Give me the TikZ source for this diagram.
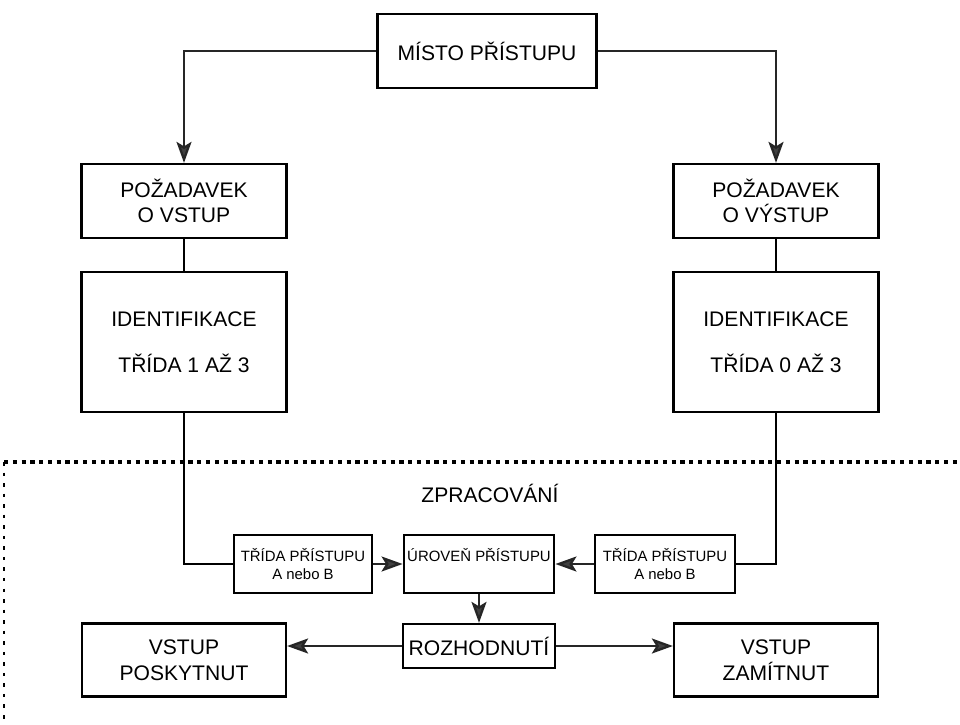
\documentclass[tikz,border=0pt]{standalone}
\usepackage{fontspec}
\setmainfont{Liberation Sans}
\usepackage{tikz}
\usetikzlibrary{arrows.meta,positioning}

\begin{document}
\begin{tikzpicture}[x=0.02cm, y=-0.02cm,
  every node/.style={font=\fontsize{12}{14.5}\selectfont},
  box/.style={draw, line width=1.3pt, align=center, inner sep=2pt},
  reqbox/.style={box, minimum width=4.1cm, minimum height=1.48cm},
  idbox/.style={box, minimum width=4.1cm, minimum height=2.8cm},
  classbox/.style={box, minimum width=2.75cm, minimum height=1.16cm, font=\fontsize{8.5}{10}\selectfont},
  resbox/.style={box, minimum width=4.08cm, minimum height=1.46cm},
  arr/.style={-{Stealth[length=4.2mm,width=3mm,inset=0.9mm,fill=black!75]}, line width=1.3pt, draw=black!85},
  wire/.style={line width=1.2pt},
  zone/.style={line width=1.8pt, dash pattern=on 2.4pt off 2.6pt},
  zoneside/.style={line width=1.6pt, dash pattern=on 2pt off 4pt},
]
\useasboundingbox (0,0) rectangle (960,724);
\node[box, minimum width=4.38cm, minimum height=1.48cm] (misto) at (487,51) {MÍSTO PŘÍSTUPU};
\node[reqbox] (reqin) at (184,201) {POŽADAVEK\\O VSTUP};
\node[reqbox] (reqout) at (776,201) {POŽADAVEK\\O VÝSTUP};
\node[idbox, below=0.64cm of reqin] (idin) {IDENTIFIKACE\\[12pt]TŘÍDA 1 AŽ 3};
\node[idbox, below=0.64cm of reqout] (idout) {IDENTIFIKACE\\[12pt]TŘÍDA 0 AŽ 3};
% zpracovani
\coordinate (zoneL) at (4,462);
\coordinate (zoneR) at (960,462);
\coordinate (zoneB) at (4,724);
\draw[zone] (zoneL) -- (zoneR);
\draw[zoneside] (zoneL) -- (zoneB);
\node (zprac) at (490,493) {ZPRACOVÁNÍ};
\node[classbox] (clin) at (303,564) {TŘÍDA PŘÍSTUPU\\A nebo B};
\node[classbox, minimum width=2.94cm] (level) at (479,564) {ÚROVEŇ PŘÍSTUPU\\\mbox{}};
\node[classbox, minimum width=2.8cm] (clout) at (665,564) {TŘÍDA PŘÍSTUPU\\A nebo B};
\node[box, minimum width=3.04cm, minimum height=0.88cm] (rozh) at (479,646) {ROZHODNUTÍ};
\node[resbox] (granted) at (184,660) {VSTUP\\POSKYTNUT};
\node[resbox] (denied) at (776,660) {VSTUP\\ZAMÍTNUT};
\draw[arr] (misto.west) -| (reqin.north);
\draw[arr] (misto.east) -| (reqout.north);
\draw[wire] (reqin) -- (idin);
\draw[wire] (reqout) -- (idout);
\draw[wire] (idin.south) |- (clin.west);
\draw[wire] (idout.south) |- (clout.east);
\draw[arr] (clin) -- (level);
\draw[arr] (clout) -- (level);
\draw[arr] (level) -- (rozh);
\draw[arr] (rozh.west) -- (rozh.west -| granted.east);
\draw[arr] (rozh.east) -- (rozh.east -| denied.west);
\end{tikzpicture}
\end{document}
